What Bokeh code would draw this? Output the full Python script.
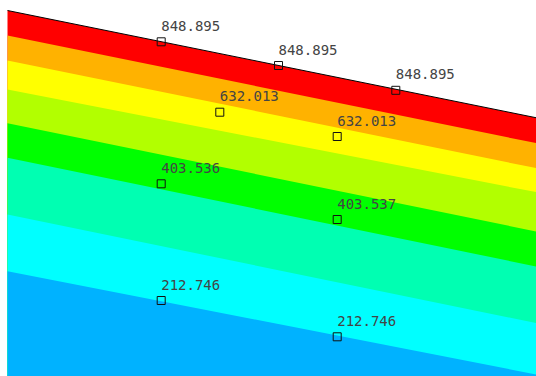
from bokeh.plotting import figure
from bokeh.models import Range1d, ColumnDataSource
from bokeh.core.properties import value
from bokeh.embed import file_html
from bokeh.resources import INLINE

# Visible section of the part along x (left and right edge)
edge_x = [0.0, 529.0]

# Contour band boundaries: y at the left edge and at the right edge,
# starting with the top surface, then each level boundary going down
bound_left = [366.0, 341.0, 316.0, 287.0, 253.3, 218.7, 162.0, 105.3]
bound_right = [258.7, 233.3, 208.3, 184.3, 145.0, 110.0, 53.3, 2.0]

# Band colours from the highest band (top) to the lowest visible one
band_colors = ["#FF0000", "#FFB200", "#FFFF00", "#B2FF00",
               "#00FF00", "#00FFB2", "#00FFFF", "#00B2FF"]

# Probed nodes and their result values
node_x = [153.7, 271.0, 388.3, 212.3, 329.7, 153.7, 329.7, 153.7, 329.7]
node_y = [334.7, 311.0, 286.2, 264.3, 240.0, 192.7, 157.0, 76.0, 39.7]
node_val = [848.895, 848.895, 848.895, 632.013, 632.013,
            403.536, 403.537, 212.746, 212.746]

p = figure(width=536, height=376, output_backend="svg", toolbar_location=None,
           x_range=Range1d(-7, 529), y_range=Range1d(0, 376),
           min_border=0, min_border_left=0, min_border_right=0,
           min_border_top=0, min_border_bottom=0)
p.axis.visible = False
p.grid.visible = False
p.outline_line_color = None
p.background_fill_color = "white"
p.border_fill_color = "white"

bottom = p.y_range.start
x0, x1 = edge_x

# Each band is filled from its upper boundary down to the bottom; the next
# band is painted over it, so neighbouring bands share an exact edge.
xs, ys = [], []
for i in range(len(band_colors)):
    xs.append([x0, x1, x1, x0])
    ys.append([bound_left[i], bound_right[i], bottom, bottom])
p.patches(xs, ys, fill_color=band_colors, line_color=None)

# Top surface edge
p.line(edge_x, [bound_left[0], bound_right[0]], line_color="#000000", line_width=1)

src = ColumnDataSource(dict(x=node_x, y=node_y,
                            label=[f"{v:.3f}" for v in node_val]))
p.scatter("x", "y", source=src, marker="square", size=8,
          fill_color=None, line_color="#111111", line_width=1)
p.text("x", "y", text="label", source=src, x_offset=0, y_offset=-16,
       text_baseline="alphabetic", text_align="left",
       text_font=value("DejaVu Sans Mono"), text_font_size="14px",
       text_color="#444444")

open("out.html", "w").write(file_html(p, INLINE))
